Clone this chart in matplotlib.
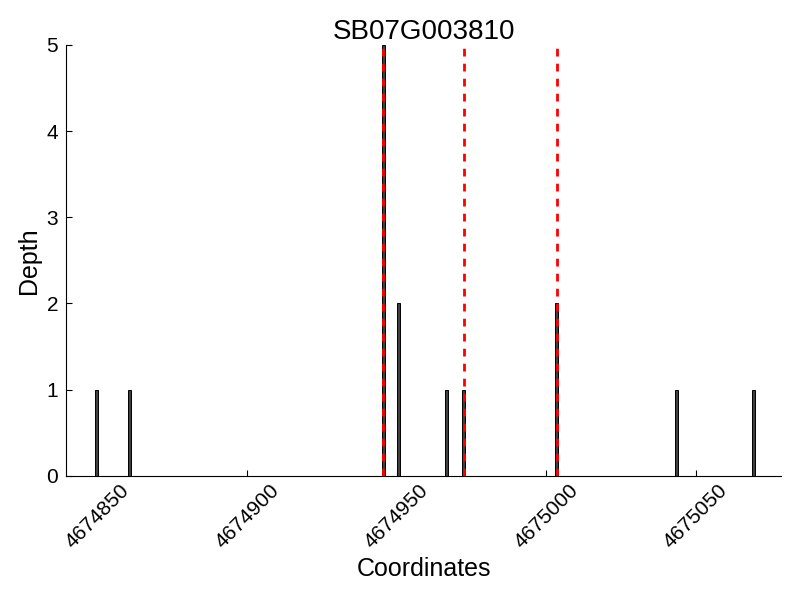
import matplotlib
matplotlib.use("Agg")
import matplotlib.pyplot as plt

plt.rcParams['font.family'] = ['Liberation Sans', 'DejaVu Sans']

title = "SB07G003810"
positions = [4674849, 4674860, 4674945, 4674950, 4674966, 4674972, 4675003, 4675043, 4675069]
depths = [1, 1, 5, 2, 1, 1, 2, 1, 1]
marker_positions = [4674945.5, 4674972.5, 4675003.5]
xticks = [4674850, 4674900, 4674950, 4675000, 4675050]

fig = plt.figure(figsize=(8, 6), dpi=100)
ax = fig.add_axes([0.083, 0.207, 0.893, 0.718])

ax.bar(positions, depths, width=1, align='edge', color='#404040',
       edgecolor='black', linewidth=0.7, zorder=2)
for m in marker_positions:
    ax.axvline(m, color='red', linewidth=2, dashes=(2.8, 2.6), zorder=3)

ax.set_xlim(4674839.5, 4675078.5)
ax.set_ylim(0, 5)
ax.set_xticks(xticks)
ax.set_xticklabels([str(t) for t in xticks], rotation=45)
ax.set_yticks([0, 1, 2, 3, 4, 5])
ax.tick_params(direction='in', length=4, labelsize=15, top=False, right=False)
ax.tick_params(axis='y', pad=6)
for s in ['top', 'right']:
    ax.spines[s].set_visible(False)

ax.set_title(title, fontsize=20, pad=4)
ax.set_xlabel("Coordinates", fontsize=18, labelpad=4)
ax.set_ylabel("Depth", fontsize=18, labelpad=4)

fig.savefig("out.png", dpi=100)
